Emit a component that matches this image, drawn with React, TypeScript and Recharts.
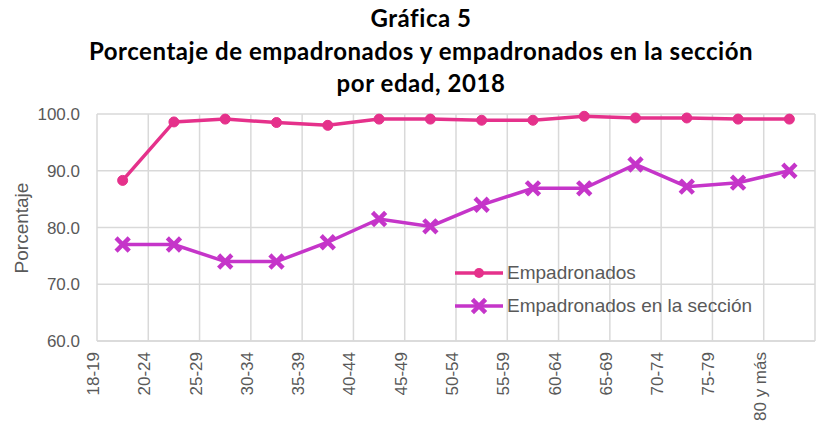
import React from "react";
import { LineChart, Line, XAxis, YAxis, CartesianGrid } from "recharts";

const categories = [
  "18-19", "20-24", "25-29", "30-34", "35-39", "40-44", "45-49",
  "50-54", "55-59", "60-64", "65-69", "70-74", "75-79", "80 y más",
];
const empadronados = [88.3, 98.6, 99.1, 98.5, 98.0, 99.1, 99.1, 98.9, 98.9, 99.6, 99.3, 99.3, 99.1, 99.1];
const enSeccion = [77.0, 77.0, 74.0, 74.0, 77.4, 81.5, 80.2, 84.0, 86.9, 86.9, 91.1, 87.2, 87.9, 90.0];
const yTicks = [60, 70, 80, 90, 100];
const seriesNames = ["Empadronados", "Empadronados en la sección"];
const titleLines = ["Gráfica 5", "Porcentaje de empadronados y empadronados en la sección", "por edad, 2018"];

const PINK = "#E5318B";
const PURPLE = "#C535C9";
const GRID = "#D9D9D9";
const TEXT = "#595959";
const FONT = "'Liberation Sans', Arial, sans-serif";

const CHART_W = 819;
const CHART_H = 421;
const MARGIN = { top: 114, right: 4, bottom: 0, left: 0 };
const Y_WIDTH = 97;
const PLOT_LEFT = MARGIN.left + Y_WIDTH;
const BAND = (CHART_W - MARGIN.right - PLOT_LEFT) / categories.length;

const data = categories.map((c, i) => ({ cat: c, emp: empadronados[i], sec: enSeccion[i] }));

// vertical grid lines sit on the category edges, as in Excel
const edgeLines = () => {
  const out: number[] = [];
  for (let i = 0; i <= categories.length; i++) out.push(PLOT_LEFT + BAND * i);
  return out;
};

const CrossDot = (props: any) => {
  const { cx, cy, fill } = props;
  if (cx == null || cy == null) return null;
  const s = 5;
  return (
    <g stroke={fill} strokeWidth={4.5} strokeLinecap="square">
      <line x1={cx - s} y1={cy - s} x2={cx + s} y2={cy + s} />
      <line x1={cx - s} y1={cy + s} x2={cx + s} y2={cy - s} />
    </g>
  );
};

// labels hang from the left edge of each category
const XTick = (props: any) => {
  const { x, y, payload } = props;
  const tx = x - BAND / 2 + 2;
  const ty = y + 3;
  return (
    <text
      x={tx}
      y={ty}
      transform={`rotate(-90, ${tx}, ${ty})`}
      textAnchor="end"
      fill={TEXT}
      fontSize={17}
      fontFamily={FONT}
    >
      {payload.value}
    </text>
  );
};

function LegendItem({ name, color, cross }: { name: string; color: string; cross?: boolean }) {
  return (
    <div style={{ display: "flex", alignItems: "center", height: 33 }}>
      <svg width={52} height={20}>
        <line x1={0} y1={10} x2={48} y2={10} stroke={color} strokeWidth={3.5} />
        {cross ? (
          <CrossDot cx={24} cy={10} fill={color} />
        ) : (
          <circle cx={24} cy={10} r={5} fill={color} />
        )}
      </svg>
      <span style={{ fontFamily: FONT, fontSize: 19, color: TEXT }}>{name}</span>
    </div>
  );
}

export default function App() {
  return (
    <div style={{ position: "absolute", left: 0, top: 0, width: CHART_W, height: CHART_H, background: "#fff", overflow: "hidden" }}>
      <div
        style={{
          position: "absolute",
          left: 0,
          top: 2,
          width: 842,
          textAlign: "center",
          fontFamily: "Lato, 'Open Sans', sans-serif",
          fontWeight: 700,
          fontSize: 24,
          letterSpacing: 0.55,
          lineHeight: "32.5px",
          color: "#000",
        }}
      >
        {titleLines.map((t) => (
          <div key={t}>{t}</div>
        ))}
      </div>
      <div
        style={{
          position: "absolute",
          left: 22,
          top: 228,
          transform: "translate(-50%, -50%) rotate(-90deg)",
          fontFamily: FONT,
          fontSize: 19,
          color: TEXT,
          whiteSpace: "nowrap",
        }}
      >
        Porcentaje
      </div>
      <LineChart width={CHART_W} height={CHART_H} data={data} margin={MARGIN}>
        <CartesianGrid stroke={GRID} strokeWidth={1.5} verticalCoordinatesGenerator={edgeLines} />
        <XAxis
          dataKey="cat"
          scale="band"
          interval={0}
          height={80}
          axisLine={{ stroke: GRID, strokeWidth: 1.5 }}
          tickLine={false}
          tick={<XTick />}
        />
        <YAxis
          domain={[60, 100]}
          ticks={yTicks}
          width={Y_WIDTH}
          axisLine={false}
          tickLine={false}
          tickSize={0}
          tickMargin={17}
          tickFormatter={(v: number) => v.toFixed(1)}
          tick={{ fill: TEXT, fontSize: 17, fontFamily: FONT }}
        />
        <Line
          dataKey="emp"
          name={seriesNames[0]}
          stroke={PINK}
          strokeWidth={3.5}
          dot={{ r: 5, fill: PINK, stroke: PINK, strokeWidth: 1 }}
          isAnimationActive={false}
        />
        <Line
          dataKey="sec"
          name={seriesNames[1]}
          stroke={PURPLE}
          strokeWidth={3.5}
          dot={<CrossDot fill={PURPLE} />}
          isAnimationActive={false}
        />
      </LineChart>
      <div style={{ position: "absolute", left: 455, top: 256 }}>
        <LegendItem name={seriesNames[0]} color={PINK} />
        <LegendItem name={seriesNames[1]} color={PURPLE} cross />
      </div>
    </div>
  );
}
